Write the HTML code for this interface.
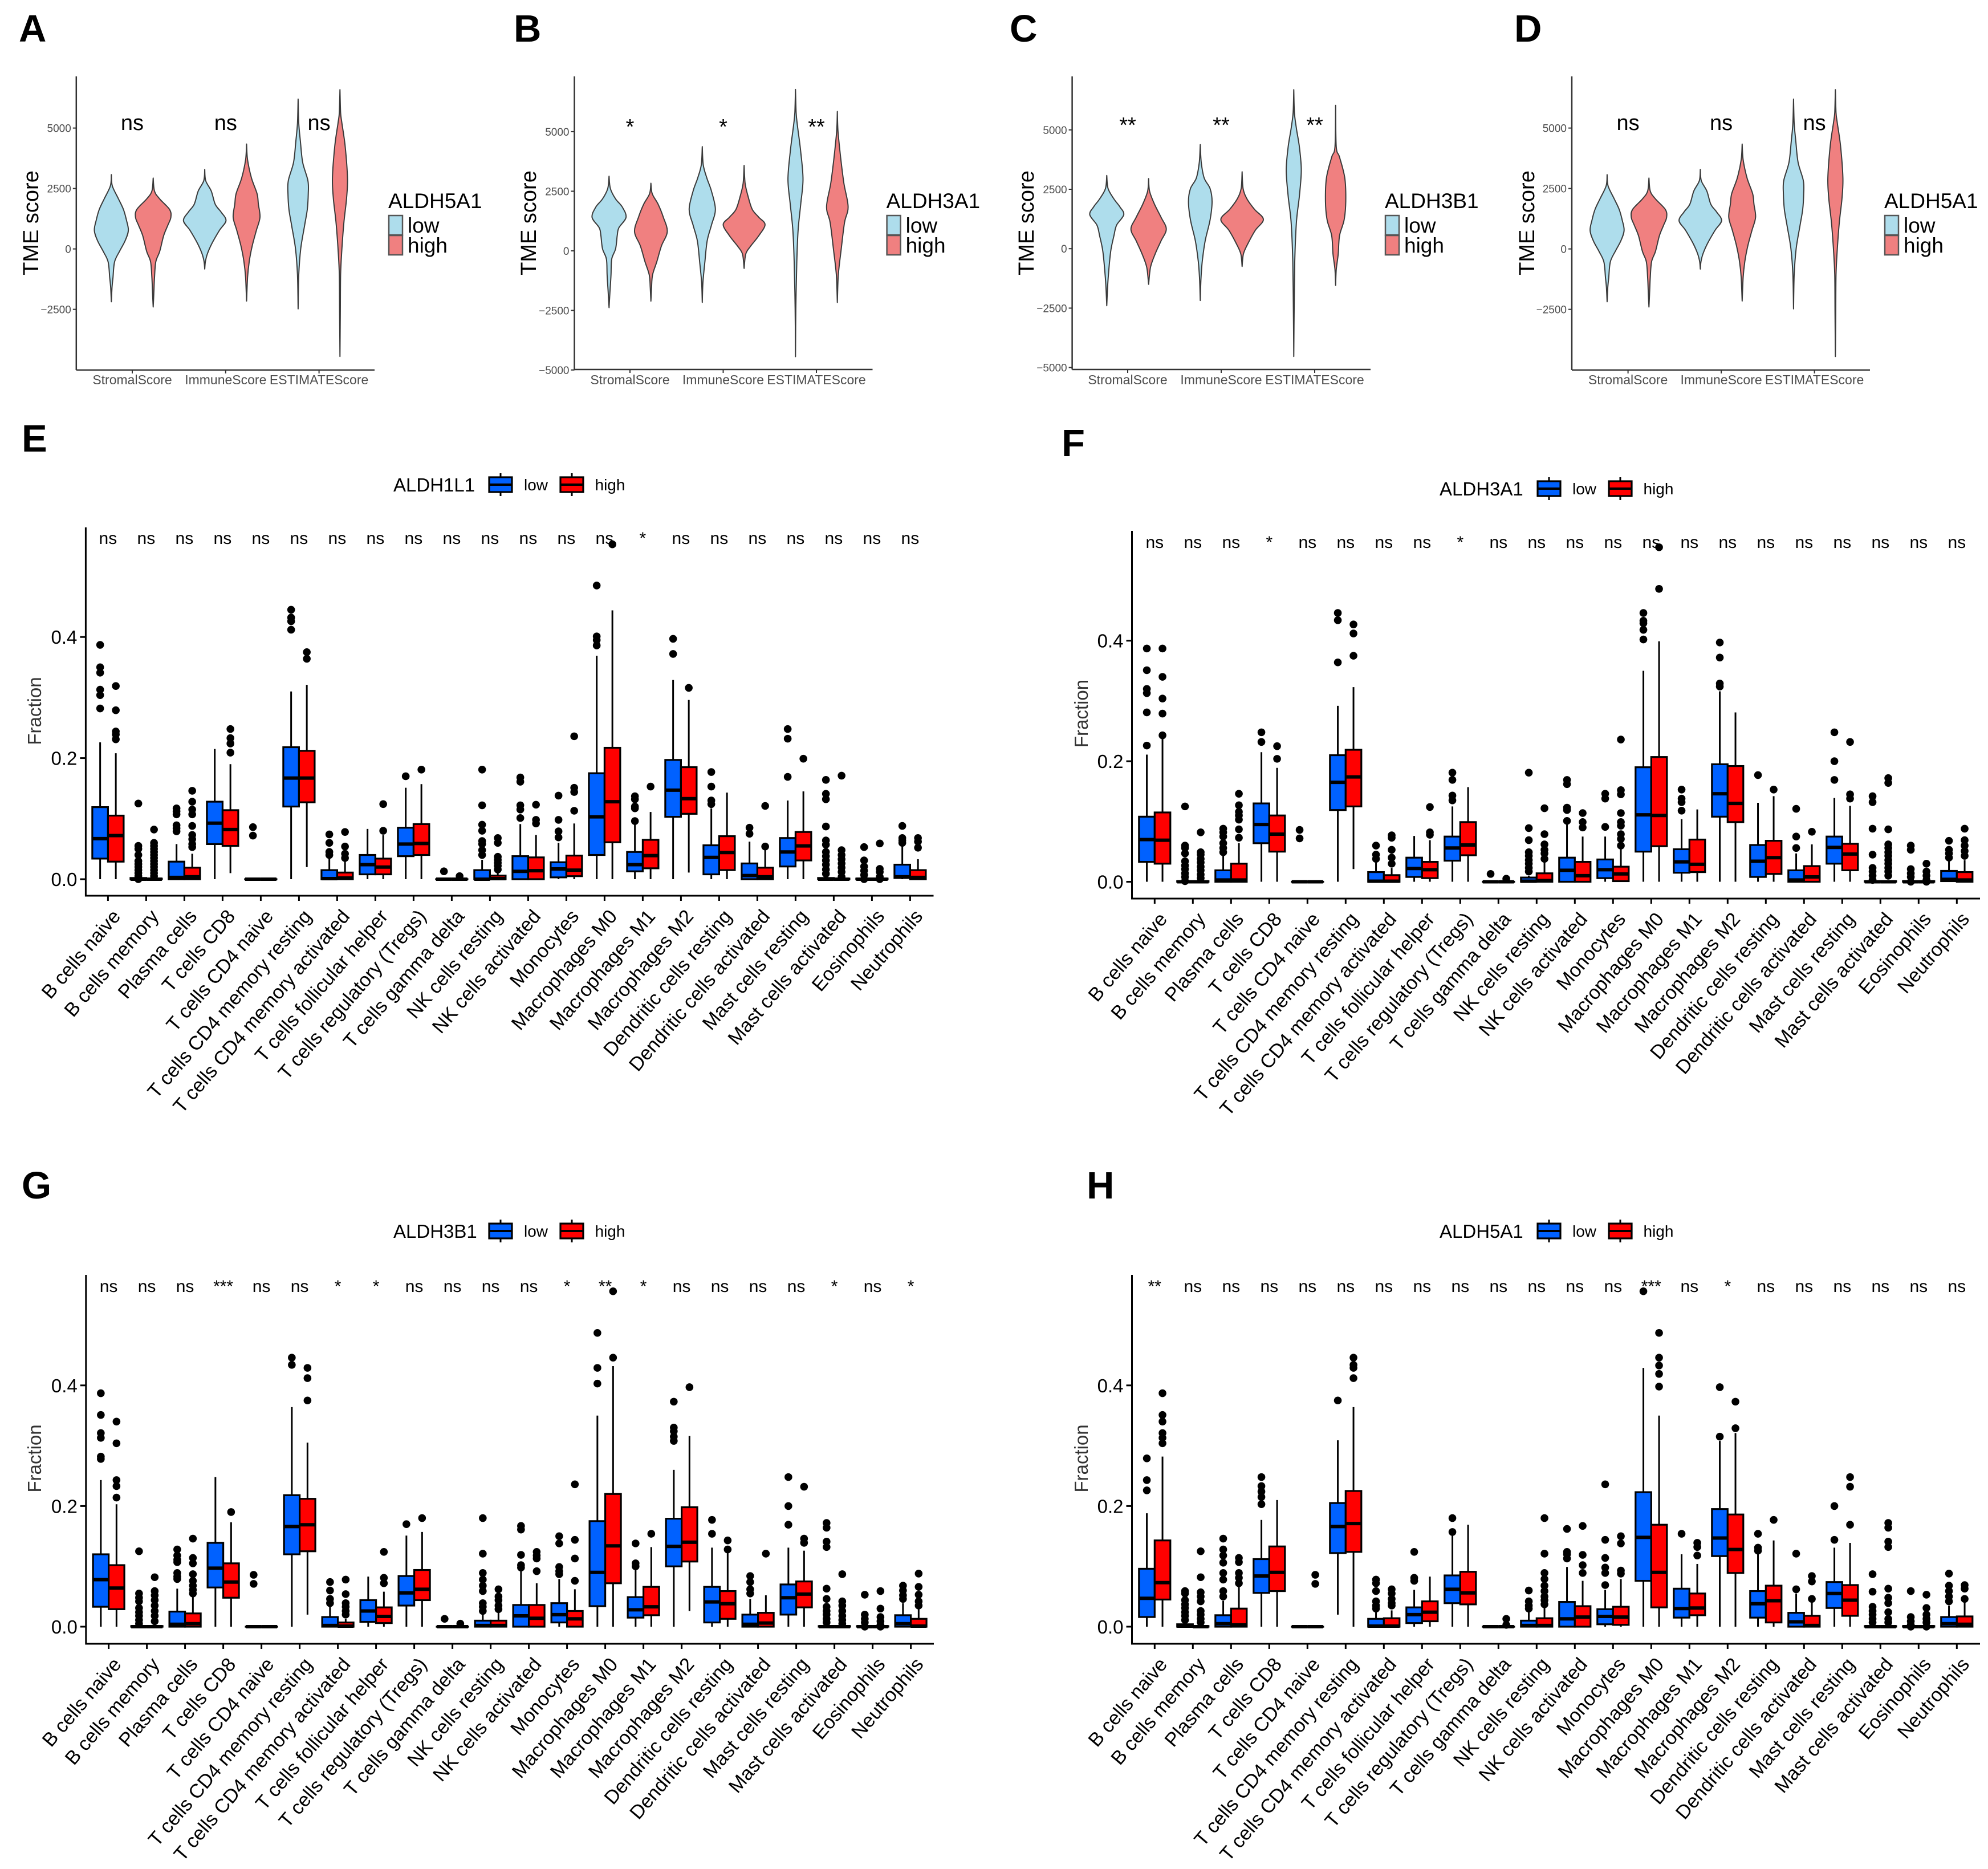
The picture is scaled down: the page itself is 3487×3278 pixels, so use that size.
<!DOCTYPE html>
<html>
<head>
<meta charset="utf-8">
<title>TME score violins and immune cell fraction boxplots</title>
<style>
html,body{margin:0;padding:0;background:#fff;}
svg{display:block;}
text{font-family:"Liberation Sans",Arial,sans-serif;}
</style>
</head>
<body>
<svg id="figure" xmlns="http://www.w3.org/2000/svg" width="3487" height="3278" viewBox="0 0 3487 3278">
<rect x="0" y="0" width="3487" height="3278" fill="#ffffff"></rect>
</svg>
<script>
/* ---------- shared categories ---------- */
const cellTypes = ["B cells naive","B cells memory","Plasma cells","T cells CD8","T cells CD4 naive","T cells CD4 memory resting","T cells CD4 memory activated","T cells follicular helper","T cells regulatory (Tregs)","T cells gamma delta","NK cells resting","NK cells activated","Monocytes","Macrophages M0","Macrophages M1","Macrophages M2","Dendritic cells resting","Dendritic cells activated","Mast cells resting","Mast cells activated","Eosinophils","Neutrophils"];
const scoreTypes = ["StromalScore","ImmuneScore","ESTIMATEScore"];
const fractionTicks = [0,0.2,0.4];
const fractionTickLabels = ["0.0","0.2","0.4"];
const scoreTicksAD = [-2500,0,2500,5000];
const scoreTickLabelsAD = ["\u22122500","0","2500","5000"];
const scoreTicksBC = [-5000,-2500,0,2500,5000];
const scoreTickLabelsBC = ["\u22125000","\u22122500","0","2500","5000"];

/* ---------- violin significance labels ---------- */
const sigA = ["ns","ns","ns"];
const sigB = ["*","*","**"];
const sigC = ["**","**","**"];
const sigD = ["ns","ns","ns"];

/* ---------- violin profiles: [TME score, density] per group, in category order low/high ---------- */
const violinsAD = [
 [[3073,0],[2608,3],[2067,22],[1634,37],[1201,46],[768,52],[335,42],[-97,25],[-530,10],[-1179,5],[-1612,2],[-2186,0]],
 [[2932,0],[2391,4],[2067,20],[1634,50],[1309,54],[985,45],[552,32],[-97,20],[-530,8],[-1179,4],[-1829,2],[-2402,0]],
 [[3289,0],[2824,3],[2391,20],[1850,32],[1526,50],[1169,65],[768,45],[227,22],[-206,8],[-530,2],[-833,0]],
 [[4339,0],[3690,3],[2932,15],[2283,32],[1850,36],[1309,41],[768,30],[119,17],[-530,8],[-1179,3],[-2153,0]],
 [[6200,0],[5204,2],[4447,7],[3581,14],[2824,30],[2283,31],[1634,28],[985,20],[11,8],[-1071,2],[-2478,0]],
 [[6589,0],[5637,2],[5204,6],[4231,16],[2932,23],[2067,20],[1093,12],[11,6],[-1071,2],[-2694,1],[-4447,0]]
];
const violinsB = [
 [[3132,0],[2616,4],[2176,20],[1846,40],[1407,52],[967,30],[637,25],[88,20],[-352,8],[-1011,6],[-1670,3],[-2385,0]],
 [[2835,0],[2396,4],[1956,22],[1407,38],[802,50],[198,32],[-462,18],[-1011,5],[-1561,2],[-2110,0]],
 [[4374,0],[3605,3],[3055,14],[2506,28],[1736,40],[1077,28],[418,15],[-462,8],[-1341,2],[-2165,0]],
 [[3583,0],[2835,3],[2286,12],[1736,25],[1407,45],[1099,64],[637,45],[198,20],[-132,5],[-736,0]],
 [[6770,0],[5803,2],[5253,6],[4154,16],[3000,23],[1956,16],[857,8],[-462,4],[-2440,1],[-4440,0]],
 [[5847,0],[5033,2],[3934,10],[2835,20],[1846,33],[1187,22],[88,12],[-1011,3],[-2165,0]]
];
const violinsC = [
 [[3083,0],[2532,4],[2092,22],[1762,40],[1431,52],[991,30],[551,22],[-110,12],[-1101,5],[-1762,2],[-2400,0]],
 [[2951,0],[2422,3],[1872,18],[1321,38],[826,54],[330,38],[-220,20],[-771,6],[-1497,0]],
 [[4382,0],[3633,3],[2973,12],[2532,30],[1982,36],[1211,30],[330,15],[-551,6],[-1321,2],[-2180,0]],
 [[3237,0],[2532,3],[2092,15],[1652,38],[1233,65],[771,40],[220,18],[-220,4],[-749,0]],
 [[6694,0],[5725,2],[5065,8],[4294,17],[3303,23],[2202,17],[1101,8],[-551,3],[-2753,1],[-4536,0]],
 [[6033,0],[4294,2],[3853,12],[2973,28],[1982,31],[1211,26],[551,12],[-220,8],[-881,2],[-1541,0]]
];

/* ---------- boxplot significance labels ---------- */
const sigE = ["ns","ns","ns","ns","ns","ns","ns","ns","ns","ns","ns","ns","ns","ns","*","ns","ns","ns","ns","ns","ns","ns"];
const sigF = ["ns","ns","ns","*","ns","ns","ns","ns","*","ns","ns","ns","ns","ns","ns","ns","ns","ns","ns","ns","ns","ns"];
const sigG = ["ns","ns","ns","***","ns","ns","*","*","ns","ns","ns","ns","*","**","*","ns","ns","ns","ns","*","ns","*"];
const sigH = ["**","ns","ns","ns","ns","ns","ns","ns","ns","ns","ns","ns","ns","***","ns","*","ns","ns","ns","ns","ns","ns"];

/* ---------- box statistics per cell type: [whisker low, q1, median, q3, whisker high] ---------- */
const statsE_low = [[0,.034,.067,.119,.226],[0,0,0,.002,.003],[0,0,.003,.029,.058],[0,.058,.0925,.128,.215],[0,0,0,0,0],[0,.12,.167,.218,.31],[0,0,.001,.015,.037],[0,.008,.024,.04,.083],[0,.038,.058,.085,.151],[0,0,0,0,0],[0,0,0,.015,.032],[0,0,.013,.038,.091],[0,.003,.017,.028,.06],[0,.04,.103,.175,.369],[0,.013,.024,.045,.091],[0,.103,.147,.197,.329],[0,.008,.036,.056,.117],[0,0,.006,.026,.062],[0,.021,.045,.068,.13],[0,0,0,.002,.003],[0,0,0,.001,.002],[0,.002,.004,.024,.055]];
const statsE_high = [[0,.029,.072,.105,.208],[0,0,0,.001,.002],[0,0,.004,.019,.042],[.01,.055,.082,.114,.19],[0,0,0,0,0],[.02,.127,.167,.212,.321],[0,0,.002,.011,.03],[0,.008,.02,.034,.073],[0,.04,.059,.091,.157],[0,0,0,0,0],[0,0,.001,.006,.011],[0,0,.014,.036,.073],[0,.005,.015,.039,.092],[0,.061,.128,.217,.444],[0,.018,.039,.065,.111],[.011,.108,.133,.185,.296],[0,.015,.044,.071,.143],[0,0,.004,.019,.048],[0,.031,.055,.078,.145],[0,0,0,.001,.002],[0,0,0,.001,.002],[0,0,.003,.015,.033]];
const statsF_low = [[0,.033,.07,.108,.211],[0,0,0,.001,.002],[0,0,.003,.019,.049],[0,.064,.095,.13,.215],[0,0,0,0,0],[0,.119,.165,.21,.292],[0,0,.001,.016,.034],[0,.008,.022,.04,.076],[0,.035,.056,.075,.125],[0,0,0,0,0],[0,0,.001,.007,.01],[0,0,.019,.04,.101],[0,.006,.02,.037,.075],[0,.05,.111,.19,.35],[0,.015,.033,.054,.104],[0,.108,.146,.195,.316],[0,.008,.034,.061,.131],[0,0,.003,.019,.047],[0,.03,.057,.075,.139],[0,0,0,.001,.002],[0,0,0,.001,.002],[0,.001,.004,.018,.034]];
const statsF_high = [[0,.03,.069,.115,.238],[0,0,0,.001,.002],[0,0,.003,.03,.064],[0,.05,.079,.11,.189],[0,0,0,0,0],[.021,.125,.174,.219,.323],[0,0,.001,.011,.023],[0,.006,.02,.033,.069],[0,.044,.061,.099,.157],[0,0,0,0,0],[0,0,.002,.014,.032],[0,0,.01,.033,.075],[0,.001,.013,.025,.056],[0,.059,.11,.207,.399],[0,.016,.029,.07,.12],[0,.099,.13,.192,.281],[0,.013,.04,.068,.142],[0,0,.008,.026,.062],[0,.019,.046,.063,.126],[0,0,0,.001,.002],[0,0,0,.001,.002],[0,0,.003,.016,.036]];
const statsG_low = [[0,.033,.078,.12,.243],[0,0,0,.001,.002],[0,0,.004,.025,.063],[0,.065,.097,.139,.248],[0,0,0,0,0],[0,.12,.166,.218,.364],[0,0,.002,.016,.035],[0,.008,.026,.044,.083],[0,.035,.056,.084,.151],[0,0,0,0,0],[0,0,.002,.01,.026],[0,0,.018,.036,.092],[0,.007,.02,.039,.079],[0,.034,.09,.175,.35],[0,.015,.028,.049,.096],[0,.1,.133,.179,.26],[0,.007,.041,.066,.131],[0,0,.004,.02,.046],[0,.02,.048,.07,.131],[0,0,0,.001,.002],[0,0,0,.001,.002],[0,0,.005,.019,.039]];
const statsG_high = [[0,.029,.064,.102,.203],[0,0,0,.001,.002],[0,0,.005,.022,.05],[0,.048,.074,.105,.173],[0,0,0,0,0],[.02,.125,.169,.212,.305],[0,0,.001,.007,.013],[0,.006,.017,.032,.058],[0,.044,.062,.094,.157],[0,0,0,0,0],[0,0,.002,.01,.024],[0,0,.014,.036,.072],[0,0,.013,.026,.062],[0,.072,.134,.22,.432],[0,.019,.033,.066,.132],[.026,.108,.14,.198,.316],[0,.013,.038,.059,.122],[0,0,.006,.023,.052],[0,.032,.054,.075,.126],[0,0,0,.001,.002],[0,0,0,.001,.002],[0,0,.001,.013,.029]];
const statsH_low = [[0,.016,.047,.096,.188],[0,0,.001,.004,.004],[0,0,.005,.019,.043],[0,.056,.084,.112,.177],[0,0,0,0,0],[.02,.122,.166,.205,.309],[0,0,.001,.013,.026],[0,.006,.02,.032,.061],[0,.039,.062,.085,.152],[0,0,0,0,0],[0,0,.002,.01,.024],[0,0,.013,.041,.099],[0,.004,.017,.029,.061],[0,.076,.148,.223,.429],[0,.015,.03,.063,.12],[0,.117,.147,.195,.308],[0,.015,.038,.059,.12],[0,0,.008,.023,.055],[0,.031,.055,.074,.131],[0,0,0,.001,.002],[0,0,0,.001,.002],[0,0,.005,.016,.035]];
const statsH_high = [[0,.045,.073,.143,.282],[0,0,0,.001,.002],[0,0,.003,.03,.066],[0,.059,.09,.133,.21],[0,0,0,0,0],[0,.124,.171,.225,.364],[0,0,.001,.014,.027],[0,.009,.024,.042,.083],[0,.037,.056,.091,.169],[0,0,0,0,0],[0,0,.002,.014,.033],[0,0,.016,.034,.076],[0,.003,.016,.033,.079],[0,.032,.09,.169,.35],[0,.019,.031,.055,.104],[0,.089,.128,.186,.321],[0,.007,.043,.068,.143],[0,0,.002,.018,.042],[0,.018,.044,.069,.139],[0,0,0,.001,.002],[0,0,0,.001,.002],[0,0,.004,.017,.046]];

/* ---------- outliers per cell type ---------- */
const outE_low = [[.387,.35,.341,.313,.304,.282],[.125,.055,.05,.04,.03,.025,.02,.015,.01,.005,0],[.117,.112,.107,.089,.084,.079],[],[.086,.072],[.445,.432,.426,.412],[.074,.06,.045,.04],[],[.17],[.013],[.181,.122,.09,.08,.063,.058,.048,.04],[.168,.161,.122,.115,.101],[.138,.098,.079,.069],[.485,.401,.395,.386],[.137,.132,.12,.117,.096],[.397,.372],[.177,.153,.13,.124],[.085,.075],[.248,.232,.169],[.164,.141,.132,.087,.064,.057,.045,.038,.031,.024,.016,.009],[.053,.031,.021,.014,.007,0],[.088,.068,.064,.06]];
const outE_high = [[.319,.279,.244,.239,.231],[.082,.06,.055,.05,.045,.04,.035,.03,.025,.02,.015,.01,.005],[.146,.128,.115,.107,.088,.073,.066,.058,.053],[.248,.233,.224,.209],[],[.375,.364],[.078,.054,.042,.035],[.124,.08],[.181],[.005],[.068,.06,.037,.032,.027,.022,.016],[.123,.098,.092],[.236,.151,.144,.113],[.553],[.153],[.316],[],[.121,.054],[.199],[.171,.048,.04,.033,.026,.019,.012,.004],[.059,.017,.012,.004,0],[.068,.062,.052]];
const outF_low = [[.387,.351,.32,.313,.281,.226],[.125,.06,.056,.047,.034,.027,.021,.014,.008,.001],[.088,.082,.075,.064,.056,.049],[.248,.232],[.086,.072],[.446,.434,.364],[.06,.045,.038],[],[.181,.169,.143,.135],[.013],[.181,.089,.069,.049,.043,.036,.03,.023,.017],[.169,.162,.123,.119,.101],[.146,.138,.091],[.446,.433,.429,.418,.402],[.153,.138,.132,.118],[.397,.372,.329,.324],[.177],[.121,.075,.056],[.248,.2,.169],[.142,.132,.088,.045,.023,.017,.01,.003],[.06,.053,.021,.014,.008,0],[.068,.053,.047,.04]];
const outF_high = [[.387,.34,.304,.279,.243],[.082,.049,.045,.038,.032,.025,.019,.012,.006],[.146,.127,.116,.11,.103,.087,.073],[.225,.204],[],[.427,.412,.375],[.077,.073,.053,.04,.03],[.124,.082,.078],[],[.005],[.122,.079,.062,.053,.047,.038],[.114,.099,.09],[.236,.152,.145,.114,.099,.093,.079,.071,.06],[.555,.486],[],[],[.153],[.083],[.232,.145,.138],[.172,.164,.087,.062,.056,.049,.043,.036,.03,.023,.017,.01],[.03,.017,.01,.003,0],[.088,.069,.06,.051,.043]];
const outG_low = [[.387,.351,.321,.313,.282,.278],[.125,.055,.048,.042,.031,.024,.018,.011,.005],[.128,.118,.111,.107,.089,.083,.079],[],[.086,.071],[.446,.434],[.074,.06,.046,.039],[],[.17],[.013],[.18,.121,.089,.078,.068,.059,.039,.033,.026],[.167,.161,.119,.102,.098],[.15,.138,.099,.092,.087],[.487,.429,.403],[.138,.105,.1],[.373,.33,.324,.315,.308],[.177,.154],[.084,.074,.062,.055],[.248,.2,.169],[.172,.164,.141,.132,.063,.046,.033,.026,.02,.013,.007],[.053,.02,.013,.007,0],[.068,.06,.052,.046]];
const outG_high = [[.34,.304,.243,.233,.214],[.082,.059,.052,.044,.035,.026,.018,.009],[.146,.114,.105,.087,.076,.068,.061,.055],[.19],[],[.429,.412,.375],[.078,.054,.039,.033,.026,.02],[.124,.081,.072],[.18],[.005],[.062,.05,.044,.035,.029],[.124,.118,.113,.092],[.236,.144,.113,.076],[.556,.446],[.154],[.397],[.143,.128],[.121],[.232,.146,.139],[.087,.042,.035,.026,.018,.011,.005],[.059,.03,.016,.009,.003,0],[.088,.066,.053,.042,.035]];
const outH_low = [[.279,.243,.226],[.059,.055,.044,.037,.031,.024,.018,.011],[.146,.128,.118,.106,.089,.078,.059,.05],[.248,.233,.224,.215,.203],[],[.375],[.078,.072,.059,.042,.035,.03],[.124,.081,.076],[.18,.157],[],[.06,.042,.035,.03],[.162,.124,.12,.113],[.236,.144,.114,.098,.089,.069],[.556],[.154],[.397,.315],[.154,.131,.126],[.121,.062],[.2,.144],[.087,.058,.033,.026,.02,.013,.007],[.059,.016,.009,.003,0],[.088,.068,.059,.05,.042]];
const outH_high = [[.387,.351,.34,.321,.313,.304],[.125,.082,.057,.05,.042,.026,.02,.013,.007],[.114,.107,.089,.081,.072],[],[.086,.071],[.446,.434,.429,.412],[.062,.055,.046,.039,.035],[],[],[.013,.003],[.18,.121,.089,.079,.068,.059,.05,.044,.037],[.167,.119,.102,.089],[.15,.138,.093,.088],[.487,.446,.433,.419,.398],[.139,.132,.118],[.373,.329],[.177],[.084,.075,.046],[.248,.232,.169],[.172,.164,.141,.132,.063,.048,.039,.024,.013,.007],[.053,.031,.02,.013,.007,0],[.069,.063,.046]];

/* ---------- helpers ---------- */
const SVGNS = "http://www.w3.org/2000/svg";
const root = document.getElementById("figure");
function make(tag, parent, attrs, txt){
  const el = document.createElementNS(SVGNS, tag);
  for (const k in attrs) el.setAttribute(k, attrs[k]);
  if (txt !== undefined) el.textContent = txt;
  parent.appendChild(el);
  return el;
}
function named(el, name){
  
  
  return el;
}
function smoothPath(pts){
  let d = "M" + pts[0][0].toFixed(1) + " " + pts[0][1].toFixed(1);
  for (let i = 0; i < pts.length - 1; i++){
    const p0 = pts[Math.max(i-1,0)], p1 = pts[i], p2 = pts[i+1], p3 = pts[Math.min(i+2,pts.length-1)];
    const c1x = p1[0] + (p2[0]-p0[0])/6, c1y = p1[1] + (p2[1]-p0[1])/6;
    const c2x = p2[0] - (p3[0]-p1[0])/6, c2y = p2[1] - (p3[1]-p1[1])/6;
    d += "C" + c1x.toFixed(1) + " " + c1y.toFixed(1) + " " + c2x.toFixed(1) + " " + c2y.toFixed(1) + " " + p2[0].toFixed(1) + " " + p2[1].toFixed(1);
  }
  return d;
}
function panelLetter(g, letter, x, y){
  const t = make("text", g, {x:x, y:y, "font-size":67, "font-weight":"bold", fill:"#000"}, letter);
  named(t, "panel-label-" + letter.toLowerCase());
}

/* ---------- violin panel ---------- */
function drawViolinPanel(cfg){
  const g = make("g", root, {});
  named(g, "panel-" + cfg.id.toLowerCase() + "-violin-chart");
  panelLetter(g, cfg.id, cfg.letterX, 73);
  const yS = v => cfg.y0 - v * cfg.pxPer2500 / 2500;
  const catX = i => cfg.catX0 + i * cfg.catStep;
  const dodge = 36.7, dScale = 0.574;
  cfg.violins.forEach((prof, idx) => {
    const cat = Math.floor(idx/2), grp = idx % 2;
    const cx = catX(cat) + (grp ? dodge : -dodge);
    const right = prof.map(p => [cx + p[1]*dScale, yS(p[0])]);
    const left = prof.slice().reverse().map(p => [cx - p[1]*dScale, yS(p[0])]);
    const d = smoothPath(right) + smoothPath(left).replace(/^M/, "L") + "Z";
    const path = make("path", g, {d:d, fill: grp ? "#f08080" : "#aeddec", stroke:"#3a3a3a", "stroke-width":2, "stroke-linejoin":"round"});
    named(path, "violin-" + scoreTypes[cat].toLowerCase() + (grp ? "-high" : "-low"));
  });
  const yAxis = make("line", g, {x1:cfg.axisX, x2:cfg.axisX, y1:134, y2:cfg.axisY, stroke:"#333", "stroke-width":2.5});
  named(yAxis, "y-axis-line");
  const xAxis = make("line", g, {x1:cfg.axisX, x2:cfg.axisRight, y1:cfg.axisY, y2:cfg.axisY, stroke:"#333", "stroke-width":2.5});
  named(xAxis, "x-axis-line");
  cfg.ticks.forEach((v, i) => {
    const tk = make("line", g, {x1:cfg.axisX-6, x2:cfg.axisX, y1:yS(v), y2:yS(v), stroke:"#333", "stroke-width":2});
    named(tk, "y-tick");
    const lb = make("text", g, {x:cfg.axisX-9, y:yS(v)+7, "text-anchor":"end", "font-size":19, fill:"#4d4d4d"}, cfg.tickLabels[i]);
    named(lb, "y-tick-label");
  });
  scoreTypes.forEach((s, i) => {
    const tk = make("line", g, {x1:catX(i), x2:catX(i), y1:cfg.axisY, y2:cfg.axisY+6, stroke:"#333", "stroke-width":2});
    named(tk, "x-tick");
    const lb = make("text", g, {x:catX(i), y:674, "text-anchor":"middle", "font-size":23, fill:"#4d4d4d"}, s);
    named(lb, "x-tick-label");
    const sl = make("text", g, {x:catX(i), y: cfg.sig[i]==="ns" ? 228 : cfg.starBase, "text-anchor":"middle", "font-size":38, fill:"#000"}, cfg.sig[i]);
    named(sl, "significance-label");
  });
  const yt = make("text", g, {transform:"translate(" + (cfg.titleX+14) + ",391) rotate(-90)", "text-anchor":"middle", "font-size":38, fill:"#000"}, "TME score");
  named(yt, "y-axis-title");
  const lg = make("g", g, {});
  named(lg, "legend");
  const lt = make("text", lg, {x:cfg.legendX, y:365, "font-size":37, fill:"#000"}, cfg.gene);
  named(lt, "legend-title");
  const k1 = make("rect", lg, {x:cfg.legendX+1, y:378, width:24, height:34, fill:"#aeddec", stroke:"#555", "stroke-width":2.5});
  named(k1, "legend-key-low");
  const k2 = make("rect", lg, {x:cfg.legendX+1, y:413, width:24, height:34, fill:"#f08080", stroke:"#555", "stroke-width":2.5});
  named(k2, "legend-key-high");
  const t1 = make("text", lg, {x:cfg.legendX+34, y:408, "font-size":37, fill:"#000"}, "low");
  named(t1, "legend-label-low");
  const t2 = make("text", lg, {x:cfg.legendX+34, y:443, "font-size":37, fill:"#000"}, "high");
  named(t2, "legend-label-high");
}

/* ---------- boxplot panel ---------- */
function drawBoxPanel(cfg){
  const g = make("g", root, {});
  named(g, "panel-" + cfg.id.toLowerCase() + "-boxplot-chart");
  panelLetter(g, cfg.id, cfg.letterX, cfg.letterY);
  const yS = v => cfg.y0 - v * cfg.pxPerTenth * 10;
  const xS = i => cfg.x0 + i * 67;
  const dodge = 13.75;
  const groups = [
    {name:"low", fill:"#0061ff", stats:cfg.low, out:cfg.outLow, sign:-1},
    {name:"high", fill:"#ff0000", stats:cfg.high, out:cfg.outHigh, sign:1}
  ];
  groups.forEach(gr => {
    gr.stats.forEach((s, i) => {
      const cx = xS(i) + gr.sign * dodge;
      const tag = cellTypes[i].toLowerCase().replace(/[^a-z0-9]+/g, "-") + "-" + gr.name;
      const wl = make("line", g, {x1:cx, x2:cx, y1:yS(s[0]), y2:yS(s[1]), stroke:"#000", "stroke-width":3});
      named(wl, "whisker-low-" + tag);
      const wh = make("line", g, {x1:cx, x2:cx, y1:yS(s[3]), y2:yS(s[4]), stroke:"#000", "stroke-width":3});
      named(wh, "whisker-high-" + tag);
      gr.out[i].forEach(v => {
        const c = make("circle", g, {cx:cx, cy:yS(v), r:6.8, fill:"#000"});
        named(c, "outlier-" + tag);
      });
    });
  });
  groups.forEach(gr => {
    gr.stats.forEach((s, i) => {
      const cx = xS(i) + gr.sign * dodge;
      const tag = cellTypes[i].toLowerCase().replace(/[^a-z0-9]+/g, "-") + "-" + gr.name;
      const b = make("rect", g, {x:cx-dodge, y:yS(s[3]), width:dodge*2, height:Math.max(yS(s[1])-yS(s[3]),0.1), fill:gr.fill, stroke:"#000", "stroke-width":3.2});
      named(b, "box-" + tag);
      const m = make("line", g, {x1:cx-dodge, x2:cx+dodge, y1:yS(s[2]), y2:yS(s[2]), stroke:"#000", "stroke-width":6});
      named(m, "median-" + tag);
    });
  });
  const yAxis = make("line", g, {x1:cfg.axisX, x2:cfg.axisX, y1:cfg.axisTop, y2:cfg.axisBottom+1.5, stroke:"#000", "stroke-width":3});
  named(yAxis, "y-axis-line");
  const xAxis = make("line", g, {x1:cfg.axisX, x2:cfg.axisRight, y1:cfg.axisBottom, y2:cfg.axisBottom, stroke:"#000", "stroke-width":3});
  named(xAxis, "x-axis-line");
  fractionTicks.forEach((v, i) => {
    const tk = make("line", g, {x1:cfg.axisX-10, x2:cfg.axisX, y1:yS(v), y2:yS(v), stroke:"#000", "stroke-width":3});
    named(tk, "y-tick");
    const lb = make("text", g, {x:cfg.axisX-15, y:yS(v)+12, "text-anchor":"end", "font-size":33, fill:"#000"}, fractionTickLabels[i]);
    named(lb, "y-tick-label");
  });
  cellTypes.forEach((c, i) => {
    const tk = make("line", g, {x1:xS(i), x2:xS(i), y1:cfg.axisBottom, y2:cfg.axisBottom+9, stroke:"#000", "stroke-width":3});
    named(tk, "x-tick");
    const lb = make("text", g, {transform:"translate(" + (xS(i)+5) + "," + (cfg.axisBottom+21) + ") rotate(-49.5)", "text-anchor":"end", dy:"0.72em", "font-size":34.2, fill:"#000"}, c);
    named(lb, "x-tick-label");
    const sl = make("text", g, {x:xS(i), y:cfg.sigBase, "text-anchor":"middle", "font-size":30, fill:"#000"}, cfg.sig[i]);
    named(sl, "significance-label");
  });
  const yt = make("text", g, {transform:"translate(" + cfg.titleX + "," + (cfg.y0-295) + ") rotate(-90)", "text-anchor":"middle", "font-size":33, fill:"#333"}, "Fraction");
  named(yt, "y-axis-title");
  const lg = make("g", g, {});
  named(lg, "legend");
  const cy = cfg.legendY, lx = cfg.legendX, ks = cfg.keyShift;
  const lt = make("text", lg, {x:lx, y:cy+12, "font-size":33, fill:"#000"}, cfg.gene);
  named(lt, "legend-title");
  [["low",168,"#0061ff",229],["high",293,"#ff0000",353.5]].forEach(k => {
    const kx = lx + ks + k[1];
    const cxk = kx + 20;
    const w = make("line", lg, {x1:cxk, x2:cxk, y1:cy-20, y2:cy+20, stroke:"#000", "stroke-width":3});
    named(w, "legend-key-whisker-" + k[0]);
    const r = make("rect", lg, {x:kx, y:cy-13, width:40, height:26, fill:k[2], stroke:"#000", "stroke-width":3.2});
    named(r, "legend-key-" + k[0]);
    const m = make("line", lg, {x1:kx, x2:kx+40, y1:cy, y2:cy, stroke:"#000", "stroke-width":4});
    named(m, "legend-key-median-" + k[0]);
    const t = make("text", lg, {x:lx+ks+k[3], y:cy+10, "font-size":28, fill:"#000"}, k[0]);
    named(t, "legend-label-" + k[0]);
  });
}

/* ---------- panels ---------- */
drawViolinPanel({id:"A", gene:"ALDH5A1", letterX:33, violins:violinsAD, sig:sigA, starBase:235, y0:436.6, pxPer2500:106, axisX:133.8, axisRight:657, axisY:649, catX0:232, catStep:163.8, ticks:scoreTicksAD, tickLabels:scoreTickLabelsAD, titleX:53, legendX:681});
drawViolinPanel({id:"B", gene:"ALDH3A1", letterX:901, violins:violinsB, sig:sigB, starBase:235, y0:439.9, pxPer2500:104.5, axisX:1007.5, axisRight:1530.5, axisY:648, catX0:1105, catStep:163.5, ticks:scoreTicksBC, tickLabels:scoreTickLabelsBC, titleX:926, legendX:1554.6});
drawViolinPanel({id:"C", gene:"ALDH3B1", letterX:1771, violins:violinsC, sig:sigC, starBase:232, y0:436.2, pxPer2500:104.2, axisX:1880.6, axisRight:2404, axisY:648, catX0:1978, catStep:164, ticks:scoreTicksBC, tickLabels:scoreTickLabelsBC, titleX:1799, legendX:2429});
drawViolinPanel({id:"D", gene:"ALDH5A1", letterX:2656, violins:violinsAD, sig:sigD, starBase:235, y0:436.6, pxPer2500:106, axisX:2757, axisRight:3280, axisY:649, catX0:2855.6, catStep:163.5, ticks:scoreTicksAD, tickLabels:scoreTickLabelsAD, titleX:2677, legendX:3305});

drawBoxPanel({id:"E", gene:"ALDH1L1", letterX:38, letterY:792, low:statsE_low, high:statsE_high, outLow:outE_low, outHigh:outE_high, sig:sigE, y0:1542, pxPerTenth:106.2, x0:189.4, axisX:150.4, axisTop:925, axisBottom:1571, axisRight:1637.5, sigBase:954, titleX:72, legendX:690, legendY:850, keyShift:0});
drawBoxPanel({id:"F", gene:"ALDH3A1", letterX:1862, letterY:800, low:statsF_low, high:statsF_high, outLow:outF_low, outHigh:outF_high, sig:sigF, y0:1546.5, pxPerTenth:105.7, x0:2025.3, axisX:1985.5, axisTop:931, axisBottom:1576, axisRight:3473, sigBase:961, titleX:1908, legendX:2525, legendY:857, keyShift:4});
drawBoxPanel({id:"G", gene:"ALDH3B1", letterX:38, letterY:2102, low:statsG_low, high:statsG_high, outLow:outG_low, outHigh:outG_high, sig:sigG, y0:2853, pxPerTenth:105.8, x0:190.6, axisX:150.8, axisTop:2236, axisBottom:2883, axisRight:1638, sigBase:2266, titleX:72, legendX:690, legendY:2159, keyShift:0});
drawBoxPanel({id:"H", gene:"ALDH5A1", letterX:1906, letterY:2102, low:statsH_low, high:statsH_high, outLow:outH_low, outHigh:outH_high, sig:sigH, y0:2853, pxPerTenth:105.8, x0:2025.3, axisX:1985.5, axisTop:2236, axisBottom:2883, axisRight:3473, sigBase:2266, titleX:1908, legendX:2525, legendY:2159, keyShift:4});
</script>
</body>
</html>
